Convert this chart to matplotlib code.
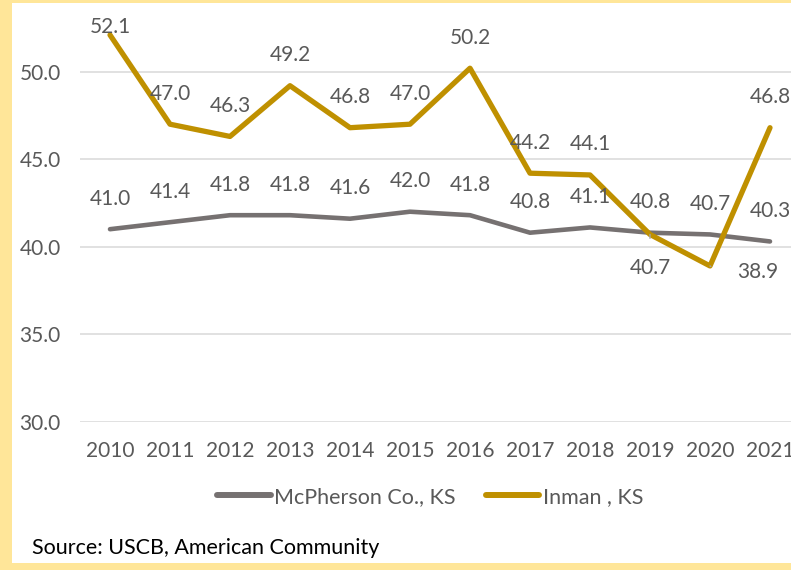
import matplotlib
matplotlib.use("Agg")
import matplotlib.pyplot as plt
from matplotlib.patches import Rectangle
from matplotlib.lines import Line2D

years = ["2010", "2011", "2012", "2013", "2014", "2015", "2016", "2017", "2018", "2019", "2020", "2021"]
mcpherson = [41.0, 41.4, 41.8, 41.8, 41.6, 42.0, 41.8, 40.8, 41.1, 40.8, 40.7, 40.3]
inman = [52.1, 47.0, 46.3, 49.2, 46.8, 47.0, 50.2, 44.2, 44.1, 40.7, 38.9, 46.8]
yticks = [30.0, 35.0, 40.0, 45.0, 50.0]
series_names = ["McPherson Co., KS", "Inman , KS"]
source_text = "Source: USCB, American Community"

GOLD = "#BF9000"
GRAY = "#767171"
TXT = "#595959"
GRID = "#D9D9D9"
BORDER = "#FFE699"

plt.rcParams['font.family'] = ['Lato', 'DejaVu Sans']

W, H = 791, 570
fig = plt.figure(figsize=(W / 100, H / 100), dpi=100)
fig.patch.set_facecolor("white")

left = 80 / W
width = 720 / W
bottom = (H - 421.7) / H
top = (H + 15.8) / H
ax = fig.add_axes([left, bottom, width, top - bottom])
ax.set_facecolor("white")

x = list(range(len(years)))
ax.plot(x, mcpherson, color=GRAY, lw=3.3, solid_capstyle="round", zorder=3)
ax.plot(x, inman, color=GOLD, lw=3.8, solid_capstyle="round", zorder=4)

ax.set_xlim(-0.5, len(years) - 0.5)
ax.set_ylim(30, 55)
ax.set_yticks(yticks)
ax.set_yticklabels([f"{v:.1f}" for v in yticks])
ax.set_xticks(x)
ax.set_xticklabels(years)
for gy in yticks + [55.0]:
    ax.axhline(gy, color=GRID, lw=1.1, zorder=1)
for s in ax.spines.values():
    s.set_visible(False)
fs = 15
ax.tick_params(axis="both", length=0, labelsize=fs, labelcolor=TXT)
ax.tick_params(axis="y", pad=14)
ax.tick_params(axis="x", pad=14)

for i, v in enumerate(mcpherson):
    ax.annotate(f"{v:.1f}", (i, v), xytext=(0, 22), textcoords="offset points",
                ha="center", va="center", fontsize=fs, color=TXT, zorder=5)

for i, v in enumerate(inman):
    if i == 0:
        ax.annotate(f"{v:.1f}", (i, v), xytext=(0, 6), textcoords="offset points",
                    ha="center", va="center", fontsize=fs, color=TXT, zorder=5)
    elif i == 9:
        ax.annotate(f"{v:.1f}", (i, v), xytext=(0, -24), textcoords="offset points",
                    ha="center", va="center", fontsize=fs, color=TXT, zorder=5,
                    arrowprops=dict(arrowstyle="-", color="#A6A6A6", lw=1.0,
                                    shrinkA=12, shrinkB=0))
    elif i == 10:
        ax.annotate(f"{v:.1f}", (i, v), xytext=(34, -4), textcoords="offset points",
                    ha="center", va="center", fontsize=fs, color=TXT, zorder=5,
                    arrowprops=dict(arrowstyle="-", color="#A6A6A6", lw=1.0,
                                    shrinkA=17, shrinkB=0,
                                    connectionstyle="angle,angleA=0,angleB=-30,rad=0"))
    else:
        ax.annotate(f"{v:.1f}", (i, v), xytext=(0, 22), textcoords="offset points",
                    ha="center", va="center", fontsize=fs, color=TXT, zorder=5)

handles = [Line2D([], [], color=GRAY, lw=4.3, solid_capstyle="round"),
           Line2D([], [], color=GOLD, lw=4.3, solid_capstyle="round")]
leg = fig.legend(handles, series_names, loc="center", bbox_to_anchor=(430 / W, (H - 497) / H),
                 ncol=2, frameon=False, fontsize=15.5, handlelength=2.5, handletextpad=0.15,
                 columnspacing=1.4, labelcolor=TXT)

fig.text(32 / W, (H - 548) / H, source_text, ha="left", va="center", fontsize=15.5, color="#000000")

fig.add_artist(Rectangle((0, 0), 12 / W, 1, transform=fig.transFigure, color=BORDER, zorder=20, lw=0))
fig.add_artist(Rectangle((0, 1 - 3 / H), 1, 3 / H, transform=fig.transFigure, color=BORDER, zorder=20, lw=0))
fig.add_artist(Rectangle((0, 0), 1, 7 / H, transform=fig.transFigure, color=BORDER, zorder=20, lw=0))

fig.savefig("out.png", dpi=100)
